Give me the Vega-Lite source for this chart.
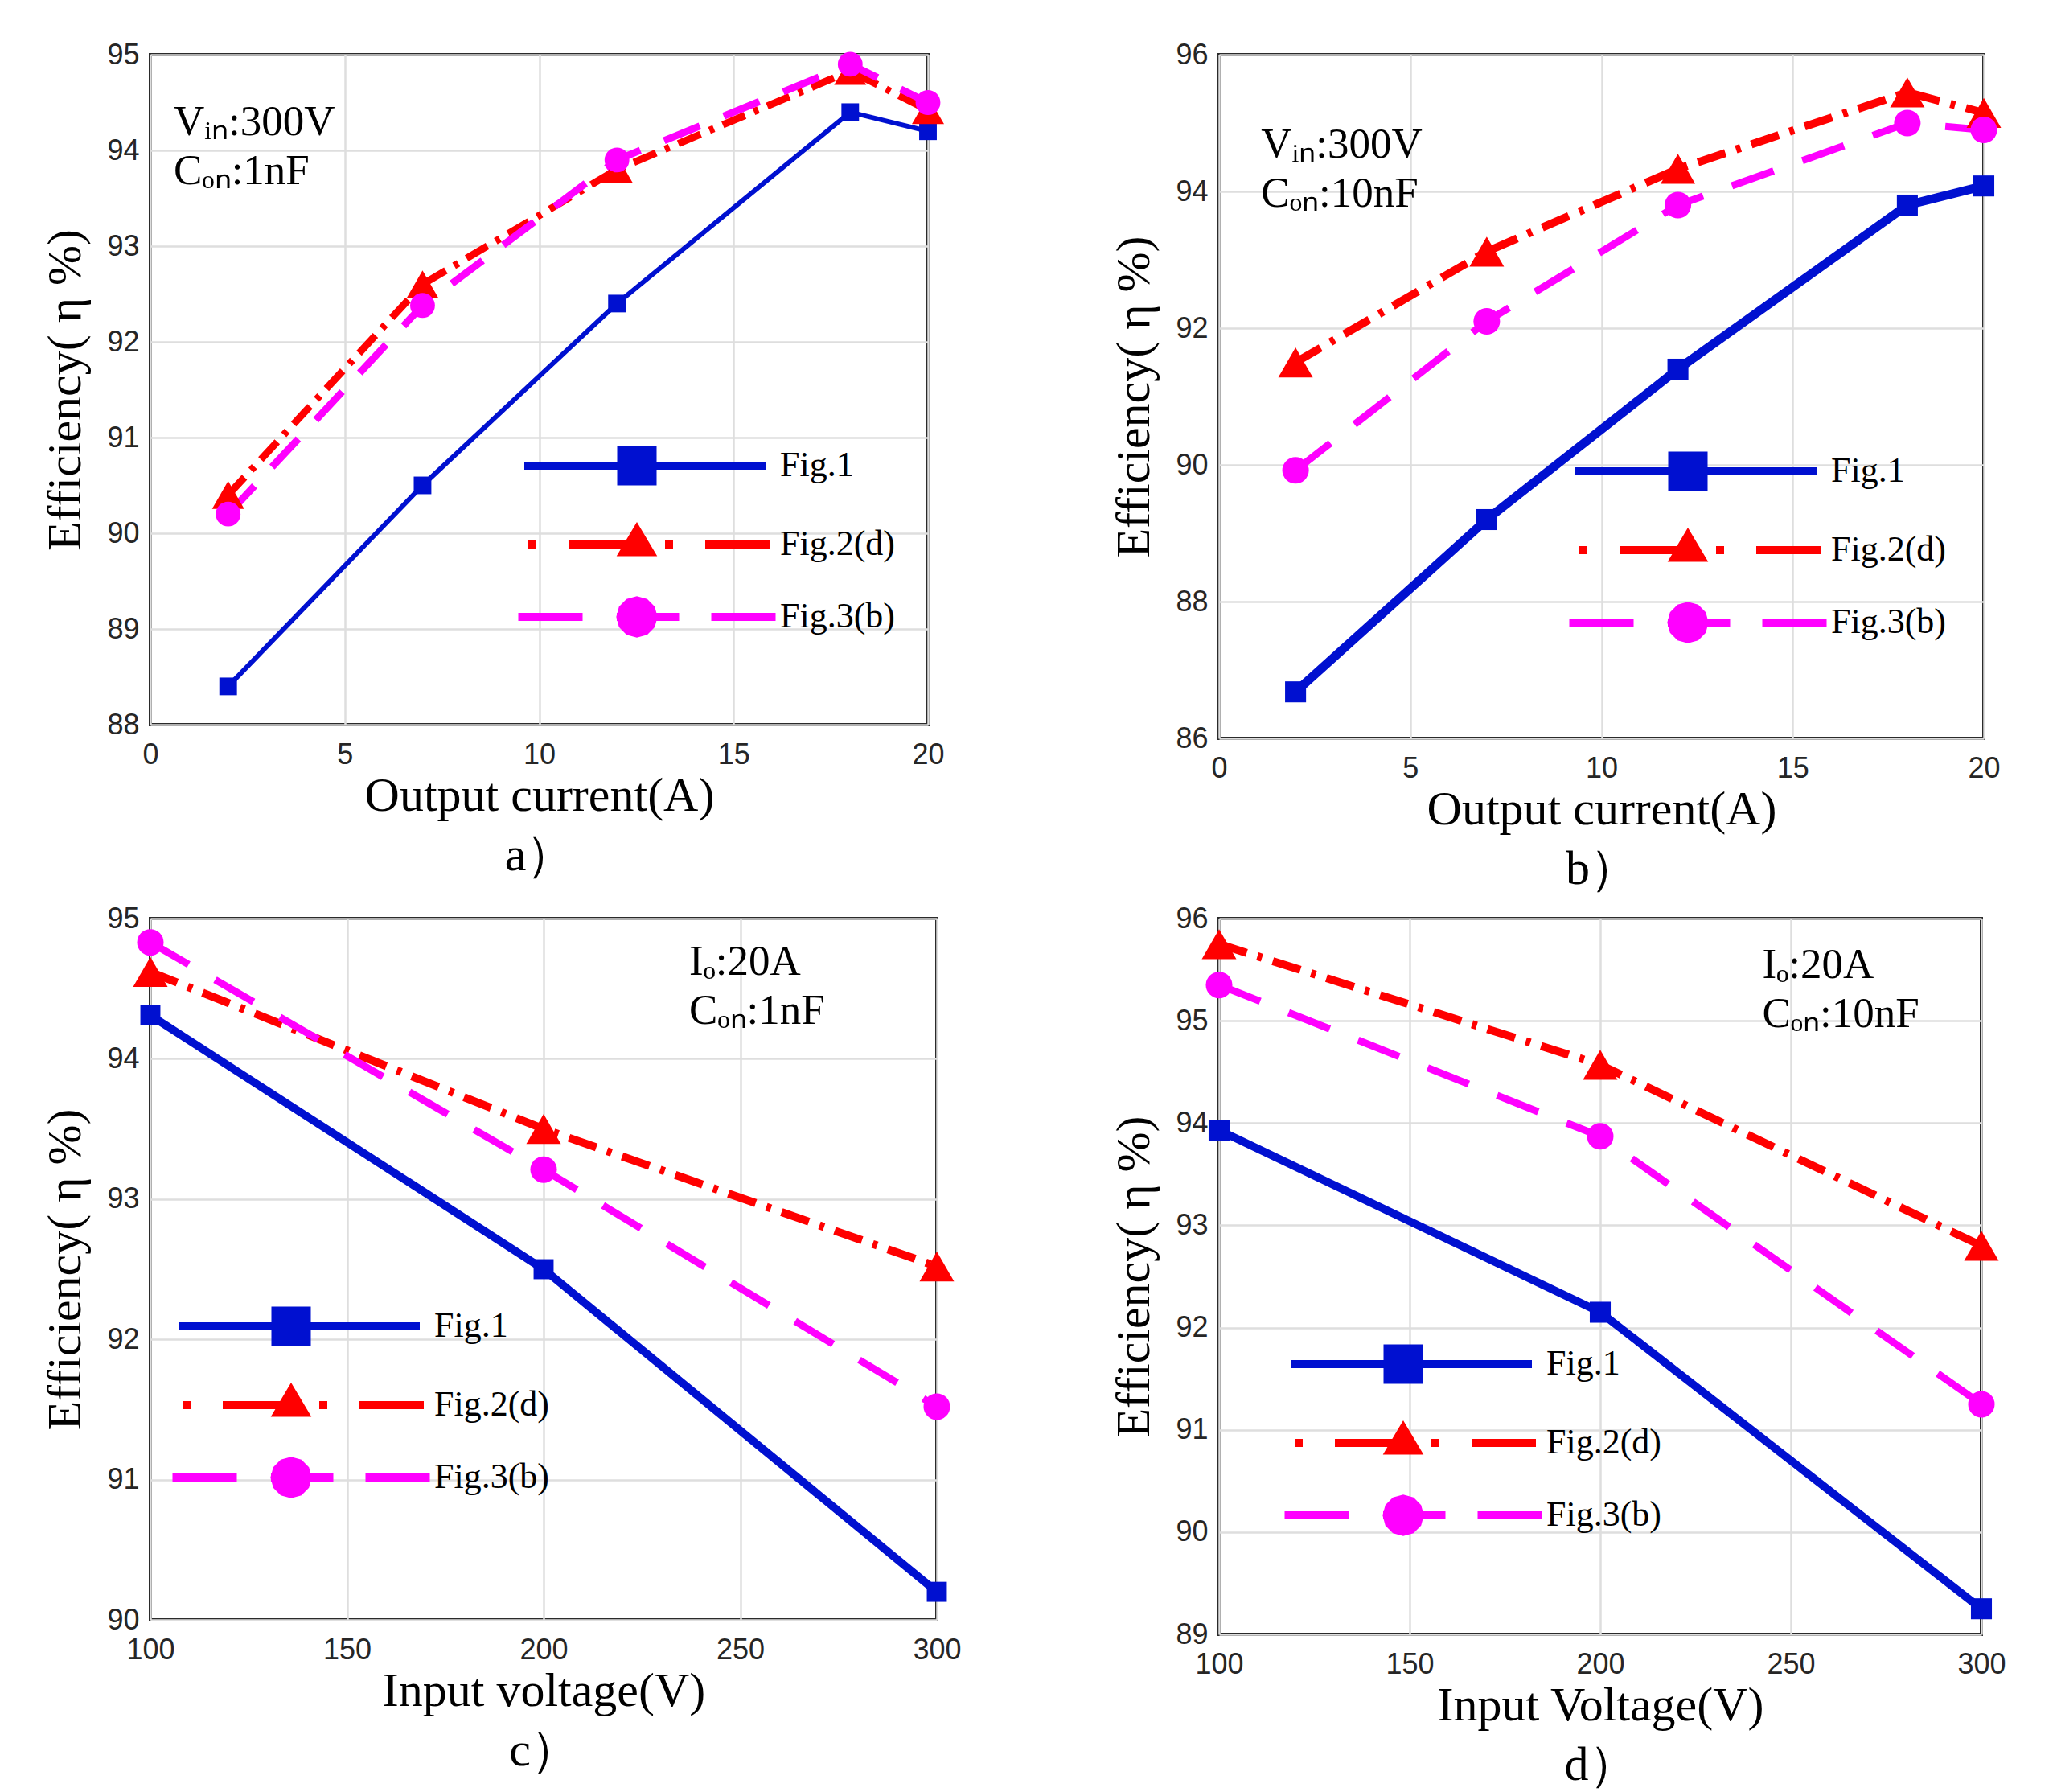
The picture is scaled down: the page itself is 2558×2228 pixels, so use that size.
{
  "$schema": "https://vega.github.io/schema/vega-lite/v6.json",
  "description": "Efficiency vs output current / input voltage, four panels",
  "background": "white",
  "padding": {"left": 49, "top": 48, "right": 20, "bottom": 10},
  "datasets": {
    "a": [
      {"x": 2, "y": 88.4, "s": "Fig.1"}, {"x": 7, "y": 90.5, "s": "Fig.1"}, {"x": 12, "y": 92.4, "s": "Fig.1"}, {"x": 18, "y": 94.4, "s": "Fig.1"}, {"x": 20, "y": 94.2, "s": "Fig.1"},
      {"x": 2, "y": 90.4, "s": "Fig.2(d)"}, {"x": 7, "y": 92.6, "s": "Fig.2(d)"}, {"x": 12, "y": 93.8, "s": "Fig.2(d)"}, {"x": 18, "y": 94.83, "s": "Fig.2(d)"}, {"x": 20, "y": 94.42, "s": "Fig.2(d)"},
      {"x": 2, "y": 90.2, "s": "Fig.3(b)"}, {"x": 7, "y": 92.38, "s": "Fig.3(b)"}, {"x": 12, "y": 93.9, "s": "Fig.3(b)"}, {"x": 18, "y": 94.9, "s": "Fig.3(b)"}, {"x": 20, "y": 94.5, "s": "Fig.3(b)"}
    ],
    "b": [
      {"x": 2, "y": 86.68, "s": "Fig.1"}, {"x": 7, "y": 89.2, "s": "Fig.1"}, {"x": 12, "y": 91.4, "s": "Fig.1"}, {"x": 18, "y": 93.8, "s": "Fig.1"}, {"x": 20, "y": 94.08, "s": "Fig.1"},
      {"x": 2, "y": 91.5, "s": "Fig.2(d)"}, {"x": 7, "y": 93.12, "s": "Fig.2(d)"}, {"x": 12, "y": 94.33, "s": "Fig.2(d)"}, {"x": 18, "y": 95.45, "s": "Fig.2(d)"}, {"x": 20, "y": 95.15, "s": "Fig.2(d)"},
      {"x": 2, "y": 89.92, "s": "Fig.3(b)"}, {"x": 7, "y": 92.1, "s": "Fig.3(b)"}, {"x": 12, "y": 93.8, "s": "Fig.3(b)"}, {"x": 18, "y": 95.0, "s": "Fig.3(b)"}, {"x": 20, "y": 94.9, "s": "Fig.3(b)"}
    ],
    "c": [
      {"x": 100, "y": 94.31, "s": "Fig.1"}, {"x": 200, "y": 92.5, "s": "Fig.1"}, {"x": 300, "y": 90.2, "s": "Fig.1"},
      {"x": 100, "y": 94.62, "s": "Fig.2(d)"}, {"x": 200, "y": 93.5, "s": "Fig.2(d)"}, {"x": 300, "y": 92.52, "s": "Fig.2(d)"},
      {"x": 100, "y": 94.83, "s": "Fig.3(b)"}, {"x": 200, "y": 93.21, "s": "Fig.3(b)"}, {"x": 300, "y": 91.52, "s": "Fig.3(b)"}
    ],
    "d": [
      {"x": 100, "y": 93.93, "s": "Fig.1"}, {"x": 200, "y": 92.15, "s": "Fig.1"}, {"x": 300, "y": 89.25, "s": "Fig.1"},
      {"x": 100, "y": 95.75, "s": "Fig.2(d)"}, {"x": 200, "y": 94.57, "s": "Fig.2(d)"}, {"x": 300, "y": 92.8, "s": "Fig.2(d)"},
      {"x": 100, "y": 95.35, "s": "Fig.3(b)"}, {"x": 200, "y": 93.87, "s": "Fig.3(b)"}, {"x": 300, "y": 91.25, "s": "Fig.3(b)"}
    ]
  },
  "columns": 2,
  "spacing": {"row": 10, "column": 180},
  "resolve": {"scale": {"color": "independent", "shape": "independent"}, "legend": {"color": "independent", "shape": "independent"}},
  "concat": [
    {
      "width": 967,
      "height": 833,
      "layer": [
        {
          "data": {"name": "a"},
          "transform": [{"filter": "datum.s === 'Fig.1'"}],
          "mark": {"type": "line", "color": "#0010d0", "strokeWidth": 6},
          "encoding": {
            "x": {"field": "x", "type": "quantitative", "scale": {"domain": [0, 20], "nice": false}, "axis": {"values": [0, 5, 10, 15, 20], "format": "d", "title": ["Output current(A)", "a）"]}},
            "y": {"field": "y", "type": "quantitative", "scale": {"domain": [88, 95], "nice": false, "zero": false}, "axis": {"values": [88, 89, 90, 91, 92, 93, 94, 95], "format": "d", "title": "Efficiency( η %)"}}
          }
        },
        {"data": {"name": "a"}, "transform": [{"filter": "datum.s === 'Fig.2(d)'"}], "mark": {"type": "line", "color": "#ff0000", "strokeWidth": 9, "strokeDash": [30, 12, 6, 12]}, "encoding": {"x": {"field": "x", "type": "quantitative"}, "y": {"field": "y", "type": "quantitative"}}},
        {"data": {"name": "a"}, "transform": [{"filter": "datum.s === 'Fig.3(b)'"}], "mark": {"type": "line", "color": "#ff00ff", "strokeWidth": 9, "strokeDash": [48, 32]}, "encoding": {"x": {"field": "x", "type": "quantitative"}, "y": {"field": "y", "type": "quantitative"}}},
        {"data": {"name": "a"}, "transform": [{"filter": "datum.s === 'Fig.1'"}], "mark": {"type": "point", "shape": "square", "filled": true, "opacity": 1, "color": "#0010d0", "size": 480}, "encoding": {"x": {"field": "x", "type": "quantitative"}, "y": {"field": "y", "type": "quantitative"}}},
        {"data": {"name": "a"}, "transform": [{"filter": "datum.s === 'Fig.2(d)'"}], "mark": {"type": "point", "shape": "triangle-up", "filled": true, "opacity": 1, "color": "#ff0000", "size": 1600}, "encoding": {"x": {"field": "x", "type": "quantitative"}, "y": {"field": "y", "type": "quantitative"}}},
        {"data": {"name": "a"}, "transform": [{"filter": "datum.s === 'Fig.3(b)'"}], "mark": {"type": "point", "shape": "circle", "filled": true, "opacity": 1, "color": "#ff00ff", "size": 950}, "encoding": {"x": {"field": "x", "type": "quantitative"}, "y": {"field": "y", "type": "quantitative"}}},
        {
          "data": {"name": "a"},
          "mark": {"type": "point", "filled": false, "opacity": 0},
          "encoding": {
            "x": {"field": "x", "type": "quantitative"},
            "y": {"field": "y", "type": "quantitative"},
            "color": {"field": "s", "type": "nominal", "scale": {"domain": ["Fig.1", "Fig.2(d)", "Fig.3(b)"], "range": ["#0010d0", "#ff0000", "#ff00ff"]}, "legend": {"orient": "none", "legendX": 575, "legendY": 481, "title": null, "symbolOpacity": 1}},
            "shape": {"field": "s", "type": "nominal", "scale": {"domain": ["Fig.1", "Fig.2(d)", "Fig.3(b)"], "range": [
              "M-5.6,0H6.4M-0.78,-0.78H0.78V0.78H-0.78ZM-0.44,-0.44H0.44V0.44H-0.44ZM-0.1,-0.1H0.1V0.1H-0.1Z",
              "M-5.4,0H-5M-3.4,0H0M1.4,0H1.8M3.4,0H6.6M0,-0.73L0.66,0.38H-0.66ZM0,-0.39L0.35,0.2H-0.35ZM-0.06,0H0.06",
              "M-5.9,0H-2.7M-1,0H2.1M3.7,0H6.9M0.82,0L0.71,0.41L0.41,0.71L0,0.82L-0.41,0.71L-0.71,0.41L-0.82,0L-0.71,-0.41L-0.41,-0.71L0,-0.82L0.41,-0.71L0.71,-0.41ZM0.48,0L0.42,0.24L0.24,0.42L0,0.48L-0.24,0.42L-0.42,0.24L-0.48,0L-0.42,-0.24L-0.24,-0.42L0,-0.48L0.24,-0.42L0.42,-0.24ZM0.14,0L0.07,0.12L-0.07,0.12L-0.14,0L-0.07,-0.12L0.07,-0.12Z"
            ]}, "legend": {"orient": "none", "legendX": 575, "legendY": 481, "title": null, "symbolOpacity": 1}}
          }
        },
        {
          "data": {"values": [{}]},
          "mark": {"type": "text", "align": "left", "baseline": "alphabetic", "font": "Liberation Serif", "fontSize": 53, "lineHeight": 61, "color": "#000"},
          "encoding": {"x": {"datum": 0.6, "type": "quantitative"}, "y": {"datum": 94.16, "type": "quantitative"}, "text": {"value": ["Vᵢₙ:300V", "Cₒₙ:1nF"]}}
        }
      ]
    },
    {
      "width": 951,
      "height": 850,
      "layer": [
        {
          "data": {"name": "b"},
          "transform": [{"filter": "datum.s === 'Fig.1'"}],
          "mark": {"type": "line", "color": "#0010d0", "strokeWidth": 11},
          "encoding": {
            "x": {"field": "x", "type": "quantitative", "scale": {"domain": [0, 20], "nice": false}, "axis": {"values": [0, 5, 10, 15, 20], "format": "d", "title": ["Output current(A)", "b）"]}},
            "y": {"field": "y", "type": "quantitative", "scale": {"domain": [86, 96], "nice": false, "zero": false}, "axis": {"values": [86, 88, 90, 92, 94, 96], "format": "d", "title": "Efficiency( η %)"}}
          }
        },
        {"data": {"name": "b"}, "transform": [{"filter": "datum.s === 'Fig.2(d)'"}], "mark": {"type": "line", "color": "#ff0000", "strokeWidth": 10, "strokeDash": [36, 14, 6, 14]}, "encoding": {"x": {"field": "x", "type": "quantitative"}, "y": {"field": "y", "type": "quantitative"}}},
        {"data": {"name": "b"}, "transform": [{"filter": "datum.s === 'Fig.3(b)'"}], "mark": {"type": "line", "color": "#ff00ff", "strokeWidth": 9, "strokeDash": [55, 38]}, "encoding": {"x": {"field": "x", "type": "quantitative"}, "y": {"field": "y", "type": "quantitative"}}},
        {"data": {"name": "b"}, "transform": [{"filter": "datum.s === 'Fig.1'"}], "mark": {"type": "point", "shape": "square", "filled": true, "opacity": 1, "color": "#0010d0", "size": 680}, "encoding": {"x": {"field": "x", "type": "quantitative"}, "y": {"field": "y", "type": "quantitative"}}},
        {"data": {"name": "b"}, "transform": [{"filter": "datum.s === 'Fig.2(d)'"}], "mark": {"type": "point", "shape": "triangle-up", "filled": true, "opacity": 1, "color": "#ff0000", "size": 1850}, "encoding": {"x": {"field": "x", "type": "quantitative"}, "y": {"field": "y", "type": "quantitative"}}},
        {"data": {"name": "b"}, "transform": [{"filter": "datum.s === 'Fig.3(b)'"}], "mark": {"type": "point", "shape": "circle", "filled": true, "opacity": 1, "color": "#ff00ff", "size": 1090}, "encoding": {"x": {"field": "x", "type": "quantitative"}, "y": {"field": "y", "type": "quantitative"}}},
        {
          "data": {"name": "b"},
          "mark": {"type": "point", "filled": false, "opacity": 0},
          "encoding": {
            "x": {"field": "x", "type": "quantitative"},
            "y": {"field": "y", "type": "quantitative"},
            "color": {"field": "s", "type": "nominal", "scale": {"domain": ["Fig.1", "Fig.2(d)", "Fig.3(b)"], "range": ["#0010d0", "#ff0000", "#ff00ff"]}, "legend": {"orient": "none", "legendX": 553, "legendY": 488, "title": null, "symbolOpacity": 1}},
            "shape": {"field": "s", "type": "nominal", "scale": {"domain": ["Fig.1", "Fig.2(d)", "Fig.3(b)"], "range": [
              "M-5.6,0H6.4M-0.78,-0.78H0.78V0.78H-0.78ZM-0.44,-0.44H0.44V0.44H-0.44ZM-0.1,-0.1H0.1V0.1H-0.1Z",
              "M-5.4,0H-5M-3.4,0H0M1.4,0H1.8M3.4,0H6.6M0,-0.73L0.66,0.38H-0.66ZM0,-0.39L0.35,0.2H-0.35ZM-0.06,0H0.06",
              "M-5.9,0H-2.7M-1,0H2.1M3.7,0H6.9M0.82,0L0.71,0.41L0.41,0.71L0,0.82L-0.41,0.71L-0.71,0.41L-0.82,0L-0.71,-0.41L-0.41,-0.71L0,-0.82L0.41,-0.71L0.71,-0.41ZM0.48,0L0.42,0.24L0.24,0.42L0,0.48L-0.24,0.42L-0.42,0.24L-0.48,0L-0.42,-0.24L-0.24,-0.42L0,-0.48L0.24,-0.42L0.42,-0.24ZM0.14,0L0.07,0.12L-0.07,0.12L-0.14,0L-0.07,-0.12L0.07,-0.12Z"
            ]}, "legend": {"orient": "none", "legendX": 553, "legendY": 488, "title": null, "symbolOpacity": 1}}
          }
        },
        {
          "data": {"values": [{}]},
          "mark": {"type": "text", "align": "left", "baseline": "alphabetic", "font": "Liberation Serif", "fontSize": 53, "lineHeight": 61, "color": "#000"},
          "encoding": {"x": {"datum": 1.1, "type": "quantitative"}, "y": {"datum": 94.5, "type": "quantitative"}, "text": {"value": ["Vᵢₙ:300V", "Cₒₙ:10nF"]}}
        }
      ]
    },
    {
      "width": 978,
      "height": 872,
      "layer": [
        {
          "data": {"name": "c"},
          "transform": [{"filter": "datum.s === 'Fig.1'"}],
          "mark": {"type": "line", "color": "#0010d0", "strokeWidth": 10},
          "encoding": {
            "x": {"field": "x", "type": "quantitative", "scale": {"domain": [100, 300], "nice": false, "zero": false}, "axis": {"values": [100, 150, 200, 250, 300], "format": "d", "title": ["Input voltage(V)", "c）"]}},
            "y": {"field": "y", "type": "quantitative", "scale": {"domain": [90, 95], "nice": false, "zero": false}, "axis": {"values": [90, 91, 92, 93, 94, 95], "format": "d", "title": "Efficiency( η %)"}}
          }
        },
        {"data": {"name": "c"}, "transform": [{"filter": "datum.s === 'Fig.2(d)'"}], "mark": {"type": "line", "color": "#ff0000", "strokeWidth": 10, "strokeDash": [36, 14, 6, 14]}, "encoding": {"x": {"field": "x", "type": "quantitative"}, "y": {"field": "y", "type": "quantitative"}}},
        {"data": {"name": "c"}, "transform": [{"filter": "datum.s === 'Fig.3(b)'"}], "mark": {"type": "line", "color": "#ff00ff", "strokeWidth": 9, "strokeDash": [55, 38]}, "encoding": {"x": {"field": "x", "type": "quantitative"}, "y": {"field": "y", "type": "quantitative"}}},
        {"data": {"name": "c"}, "transform": [{"filter": "datum.s === 'Fig.1'"}], "mark": {"type": "point", "shape": "square", "filled": true, "opacity": 1, "color": "#0010d0", "size": 620}, "encoding": {"x": {"field": "x", "type": "quantitative"}, "y": {"field": "y", "type": "quantitative"}}},
        {"data": {"name": "c"}, "transform": [{"filter": "datum.s === 'Fig.2(d)'"}], "mark": {"type": "point", "shape": "triangle-up", "filled": true, "opacity": 1, "color": "#ff0000", "size": 1850}, "encoding": {"x": {"field": "x", "type": "quantitative"}, "y": {"field": "y", "type": "quantitative"}}},
        {"data": {"name": "c"}, "transform": [{"filter": "datum.s === 'Fig.3(b)'"}], "mark": {"type": "point", "shape": "circle", "filled": true, "opacity": 1, "color": "#ff00ff", "size": 1090}, "encoding": {"x": {"field": "x", "type": "quantitative"}, "y": {"field": "y", "type": "quantitative"}}},
        {
          "data": {"name": "c"},
          "mark": {"type": "point", "filled": false, "opacity": 0},
          "encoding": {
            "x": {"field": "x", "type": "quantitative"},
            "y": {"field": "y", "type": "quantitative"},
            "color": {"field": "s", "type": "nominal", "scale": {"domain": ["Fig.1", "Fig.2(d)", "Fig.3(b)"], "range": ["#0010d0", "#ff0000", "#ff00ff"]}, "legend": {"orient": "none", "legendX": 145, "legendY": 477, "title": null, "symbolOpacity": 1}},
            "shape": {"field": "s", "type": "nominal", "scale": {"domain": ["Fig.1", "Fig.2(d)", "Fig.3(b)"], "range": [
              "M-5.6,0H6.4M-0.78,-0.78H0.78V0.78H-0.78ZM-0.44,-0.44H0.44V0.44H-0.44ZM-0.1,-0.1H0.1V0.1H-0.1Z",
              "M-5.4,0H-5M-3.4,0H0M1.4,0H1.8M3.4,0H6.6M0,-0.73L0.66,0.38H-0.66ZM0,-0.39L0.35,0.2H-0.35ZM-0.06,0H0.06",
              "M-5.9,0H-2.7M-1,0H2.1M3.7,0H6.9M0.82,0L0.71,0.41L0.41,0.71L0,0.82L-0.41,0.71L-0.71,0.41L-0.82,0L-0.71,-0.41L-0.41,-0.71L0,-0.82L0.41,-0.71L0.71,-0.41ZM0.48,0L0.42,0.24L0.24,0.42L0,0.48L-0.24,0.42L-0.42,0.24L-0.48,0L-0.42,-0.24L-0.24,-0.42L0,-0.48L0.24,-0.42L0.42,-0.24ZM0.14,0L0.07,0.12L-0.07,0.12L-0.14,0L-0.07,-0.12L0.07,-0.12Z"
            ]}, "legend": {"orient": "none", "legendX": 145, "legendY": 477, "title": null, "symbolOpacity": 1}}
          }
        },
        {
          "data": {"values": [{}]},
          "mark": {"type": "text", "align": "left", "baseline": "alphabetic", "font": "Liberation Serif", "fontSize": 53, "lineHeight": 61, "color": "#000"},
          "encoding": {"x": {"datum": 237, "type": "quantitative"}, "y": {"datum": 94.6, "type": "quantitative"}, "text": {"value": ["Iₒ:20A", "Cₒₙ:1nF"]}}
        }
      ]
    },
    {
      "width": 948,
      "height": 890,
      "layer": [
        {
          "data": {"name": "d"},
          "transform": [{"filter": "datum.s === 'Fig.1'"}],
          "mark": {"type": "line", "color": "#0010d0", "strokeWidth": 10},
          "encoding": {
            "x": {"field": "x", "type": "quantitative", "scale": {"domain": [100, 300], "nice": false, "zero": false}, "axis": {"values": [100, 150, 200, 250, 300], "format": "d", "title": ["Input Voltage(V)", "d）"]}},
            "y": {"field": "y", "type": "quantitative", "scale": {"domain": [89, 96], "nice": false, "zero": false}, "axis": {"values": [89, 90, 91, 92, 93, 94, 95, 96], "format": "d", "title": "Efficiency( η %)"}}
          }
        },
        {"data": {"name": "d"}, "transform": [{"filter": "datum.s === 'Fig.2(d)'"}], "mark": {"type": "line", "color": "#ff0000", "strokeWidth": 10, "strokeDash": [36, 14, 6, 14]}, "encoding": {"x": {"field": "x", "type": "quantitative"}, "y": {"field": "y", "type": "quantitative"}}},
        {"data": {"name": "d"}, "transform": [{"filter": "datum.s === 'Fig.3(b)'"}], "mark": {"type": "line", "color": "#ff00ff", "strokeWidth": 9, "strokeDash": [55, 38]}, "encoding": {"x": {"field": "x", "type": "quantitative"}, "y": {"field": "y", "type": "quantitative"}}},
        {"data": {"name": "d"}, "transform": [{"filter": "datum.s === 'Fig.1'"}], "mark": {"type": "point", "shape": "square", "filled": true, "opacity": 1, "color": "#0010d0", "size": 680}, "encoding": {"x": {"field": "x", "type": "quantitative"}, "y": {"field": "y", "type": "quantitative"}}},
        {"data": {"name": "d"}, "transform": [{"filter": "datum.s === 'Fig.2(d)'"}], "mark": {"type": "point", "shape": "triangle-up", "filled": true, "opacity": 1, "color": "#ff0000", "size": 1850}, "encoding": {"x": {"field": "x", "type": "quantitative"}, "y": {"field": "y", "type": "quantitative"}}},
        {"data": {"name": "d"}, "transform": [{"filter": "datum.s === 'Fig.3(b)'"}], "mark": {"type": "point", "shape": "circle", "filled": true, "opacity": 1, "color": "#ff00ff", "size": 1090}, "encoding": {"x": {"field": "x", "type": "quantitative"}, "y": {"field": "y", "type": "quantitative"}}},
        {
          "data": {"name": "d"},
          "mark": {"type": "point", "filled": false, "opacity": 0},
          "encoding": {
            "x": {"field": "x", "type": "quantitative"},
            "y": {"field": "y", "type": "quantitative"},
            "color": {"field": "s", "type": "nominal", "scale": {"domain": ["Fig.1", "Fig.2(d)", "Fig.3(b)"], "range": ["#0010d0", "#ff0000", "#ff00ff"]}, "legend": {"orient": "none", "legendX": 199, "legendY": 524, "title": null, "symbolOpacity": 1}},
            "shape": {"field": "s", "type": "nominal", "scale": {"domain": ["Fig.1", "Fig.2(d)", "Fig.3(b)"], "range": [
              "M-5.6,0H6.4M-0.78,-0.78H0.78V0.78H-0.78ZM-0.44,-0.44H0.44V0.44H-0.44ZM-0.1,-0.1H0.1V0.1H-0.1Z",
              "M-5.4,0H-5M-3.4,0H0M1.4,0H1.8M3.4,0H6.6M0,-0.73L0.66,0.38H-0.66ZM0,-0.39L0.35,0.2H-0.35ZM-0.06,0H0.06",
              "M-5.9,0H-2.7M-1,0H2.1M3.7,0H6.9M0.82,0L0.71,0.41L0.41,0.71L0,0.82L-0.41,0.71L-0.71,0.41L-0.82,0L-0.71,-0.41L-0.41,-0.71L0,-0.82L0.41,-0.71L0.71,-0.41ZM0.48,0L0.42,0.24L0.24,0.42L0,0.48L-0.24,0.42L-0.42,0.24L-0.48,0L-0.42,-0.24L-0.24,-0.42L0,-0.48L0.24,-0.42L0.42,-0.24ZM0.14,0L0.07,0.12L-0.07,0.12L-0.14,0L-0.07,-0.12L0.07,-0.12Z"
            ]}, "legend": {"orient": "none", "legendX": 199, "legendY": 524, "title": null, "symbolOpacity": 1}}
          }
        },
        {
          "data": {"values": [{}]},
          "mark": {"type": "text", "align": "left", "baseline": "alphabetic", "font": "Liberation Serif", "fontSize": 53, "lineHeight": 61, "color": "#000"},
          "encoding": {"x": {"datum": 242.5, "type": "quantitative"}, "y": {"datum": 95.42, "type": "quantitative"}, "text": {"value": ["Iₒ:20A", "Cₒₙ:10nF"]}}
        }
      ]
    }
  ],
  "config": {
    "font": "Liberation Serif",
    "view": {"stroke": "#2a2a2a", "strokeWidth": 4},
    "axis": {
      "domain": false,
      "ticks": false,
      "grid": true,
      "gridColor": "#dedede",
      "gridWidth": 2.5,
      "labelFont": "Liberation Sans",
      "labelFontSize": 36,
      "labelColor": "#262626",
      "labelPadding": 14,
      "labelFlush": false,
      "labelOverlap": false,
      "titleFont": "Liberation Serif",
      "titleFontSize": 60,
      "titleFontWeight": "normal",
      "titleColor": "#000000"
    },
    "axisX": {"labelPadding": 20, "titlePadding": 4, "titleLineHeight": 74},
    "axisY": {"titlePadding": 20},
    "legend": {
      "symbolSize": 2500,
      "symbolStrokeWidth": 10,
      "symbolOpacity": 1,
      "labelFont": "Liberation Serif",
      "labelFontSize": 44,
      "labelColor": "#000000",
      "labelOffset": 148,
      "rowPadding": 19,
      "padding": 0,
      "offset": 0
    }
  }
}
